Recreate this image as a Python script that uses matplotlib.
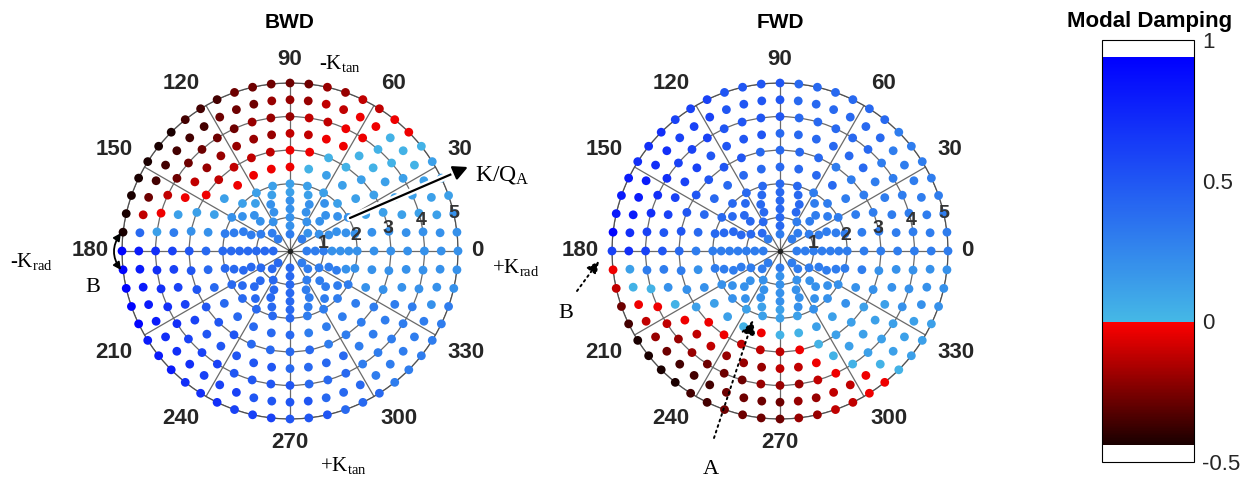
import numpy as np
import matplotlib.pyplot as plt
from matplotlib.colors import ListedColormap, Normalize
from matplotlib.patches import FancyArrowPatch
import matplotlib.patheffects as pe

plt.rcParams['font.family'] = ['Liberation Sans', 'DejaVu Sans']
plt.rcParams['mathtext.fontset'] = 'custom'
plt.rcParams['mathtext.rm'] = 'Liberation Serif'
plt.rcParams['mathtext.it'] = 'Liberation Serif:italic'

# K/Q_A rings; each string holds the damping read off the dots of that ring,
# one character per dot, starting at 0 deg and going counter-clockwise
radii = [0.5, 0.75, 1.0, 1.25, 1.5, 1.75, 2.0, 2.5, 3.0, 3.5, 4.0, 4.5, 5.0]

bwd_rings = [
    "33334443",
    "32234443",
    "322223444433",
    "2222222344444333",
    "2222222344444333",
    "22221111234444443332",
    "222111111123444444433332",
    "2211110rrrr11244444444333322",
    "2211100rrffffr125555554444333322",
    "2211100rrffeeeeefr1366666555554444333322",
    "2211100rrffeeedddddfr17777766655554443333322",
    "22111000rrffeeedddmmmmmdf488888777666555544433333222",
    "2221110rrffeedddddmmmkkkkkkk9999988877766655544433333322",
]

fwd_rings = [
    "33333333",
    "33443323",
    "333444332223",
    "3334444433222223",
    "3334444433222223",
    "33334444443322112223",
    "333334444444332211112223",
    "33334444444444322110r0011223",
    "33333344445555554321rrfffr011122",
    "333334444445555666655320rffeeeffr0111122",
    "3333334444455556667776630rfeedddeeefr0111222",
    "33333334444445555666778887710rfedmmmddddeeffr0111222",
    "33333333444444555566677788896rfdmkkkkmmddddeeffrr0111222",
]

# damping value for each dot code
levels = {'k': -0.44, 'm': -0.36, 'd': -0.28, 'e': -0.2, 'f': -0.12, 'r': -0.03,
          '0': 0.03, '1': 0.12, '2': 0.2, '3': 0.3, '4': 0.4, '5': 0.5,
          '6': 0.6, '7': 0.7, '8': 0.8, '9': 0.92}

theta_ticks = [0, 30, 60, 90, 120, 150, 180, 210, 240, 270, 300, 330]
r_ticks = [1, 2, 3, 4, 5]
cbar_ticks = [-0.5, 0, 0.5, 1]
cbar_labels = ['-0.5', '0', '0.5', '1']

W, H = 1251, 479


def fx(x):
    return x / W


def fy(y):
    return 1 - y / H


# colour map: black->red below zero, light blue->blue above, white at the ends
vals = np.linspace(-0.5, 1, 301)
cols = np.ones((len(vals), 3))
neg = (vals >= -0.44) & (vals < 0)
t = (vals[neg] + 0.44) / 0.44
cols[neg] = np.outer(1 - t, [0.1, 0, 0]) + np.outer(t, [1, 0, 0])
pos = (vals >= 0) & (vals <= 0.94)
t = vals[pos] / 0.94
cols[pos] = np.outer(1 - t, [0.27, 0.72, 0.9]) + np.outer(t, [0, 0, 1])
cmap = ListedColormap(cols)
norm = Normalize(-0.5, 1)


def draw(ax, rings):
    sc = None
    for r, codes in zip(radii, rings):
        th = np.linspace(0, 2 * np.pi, len(codes), endpoint=False)
        d = [levels[c] for c in codes]
        sc = ax.scatter(th, np.full(len(codes), r), c=d, cmap=cmap, norm=norm,
                        s=40, lw=0, zorder=3, clip_on=False)
    ax.set_ylim(0, 5)
    ax.set_xticks(np.deg2rad(theta_ticks))
    ax.set_xticklabels([])
    ax.set_yticks(r_ticks)
    ax.set_yticklabels([])
    ax.grid(color='#6a6a6a', lw=0.9)
    ax.spines['polar'].set_color('#505050')
    ax.spines['polar'].set_linewidth(0.9)
    for a in theta_ticks:
        c, s = np.cos(np.deg2rad(a)), np.sin(np.deg2rad(a))
        ha = 'left' if c > 0.1 else ('right' if c < -0.1 else 'center')
        va = 'bottom' if s > 0.1 else ('top' if s < -0.1 else 'center')
        ax.text(np.deg2rad(a), 5.4, str(a), ha=ha, va=va, fontsize=16,
                fontweight='bold', color='#262626', clip_on=False)
    for r in r_ticks:
        ax.text(np.deg2rad(13), r, str(r), ha='center', va='center', fontsize=14,
                fontweight='bold', color='#333333', zorder=5)
    ax.plot(0, 0, 'o', ms=3, color='#222222', zorder=4)
    return sc


fig = plt.figure(figsize=(12.51, 4.79), dpi=100)

ax1 = fig.add_axes([fx(290 - 168), fy(251 + 168), 336 / W, 336 / H], projection='polar')
sc = draw(ax1, bwd_rings)
ax2 = fig.add_axes([fx(780 - 168), fy(251 + 168), 336 / W, 336 / H], projection='polar')
draw(ax2, fwd_rings)

fig.text(fx(290), fy(22), 'BWD', ha='center', va='center', fontsize=15, fontweight='bold')
fig.text(fx(780), fy(22), 'FWD', ha='center', va='center', fontsize=15, fontweight='bold')

cax = fig.add_axes([fx(1102), fy(462), 92 / W, 422 / H])
cb = fig.colorbar(sc, cax=cax, ticks=cbar_ticks)
cb.set_ticklabels(cbar_labels)
cax.tick_params(length=0, labelsize=16, pad=6, colors='#262626')
cb.outline.set_linewidth(0.8)
fig.text(fx(1150), fy(22), 'Modal Damping', ha='center', va='center', fontsize=16,
         fontweight='bold')

# annotations
serif = dict(fontfamily='Liberation Serif', fontsize=15, ha='center', va='center')
fig.text(fx(340), fy(63), '-K$_{\\mathrm{tan}}$', **serif)
fig.text(fx(343), fy(465), '+K$_{\\mathrm{tan}}$', **serif)
fig.text(fx(502), fy(175), 'K/Q$_{\\mathrm{A}}$', **dict(serif, fontsize=17))
fig.text(fx(31), fy(261), '-K$_{\\mathrm{rad}}$', **serif)
fig.text(fx(516), fy(268), '+K$_{\\mathrm{rad}}$', **serif)
fig.text(fx(93), fy(288), 'B', **dict(serif, fontsize=16))
fig.text(fx(566), fy(313), 'B', **dict(serif, fontsize=16))
fig.text(fx(711), fy(469), 'A', **dict(serif, fontsize=16))


def arrow(p0, p1, **kw):
    a = FancyArrowPatch((fx(p0[0]), fy(p0[1])), (fx(p1[0]), fy(p1[1])),
                        transform=fig.transFigure, shrinkA=0, shrinkB=0,
                        color='black', zorder=10, **kw)
    fig.add_artist(a)
    return a


arrow((350, 218), (468, 167), arrowstyle='-|>', mutation_scale=22, lw=1.6,
      path_effects=[pe.Stroke(linewidth=5, foreground='white'), pe.Normal()])
arrow((121, 233), (121, 270), arrowstyle='<|-|>', mutation_scale=11, lw=1.3,
      connectionstyle='arc3,rad=0.35')
arrow((577, 291), (599, 261), arrowstyle='-|>', mutation_scale=18, lw=1.4,
      linestyle=(0, (1, 2)))
arrow((714, 438), (753, 320), arrowstyle='-|>', mutation_scale=22, lw=1.4,
      linestyle=(0, (1, 2)))

fig.savefig('out.png', dpi=100)
